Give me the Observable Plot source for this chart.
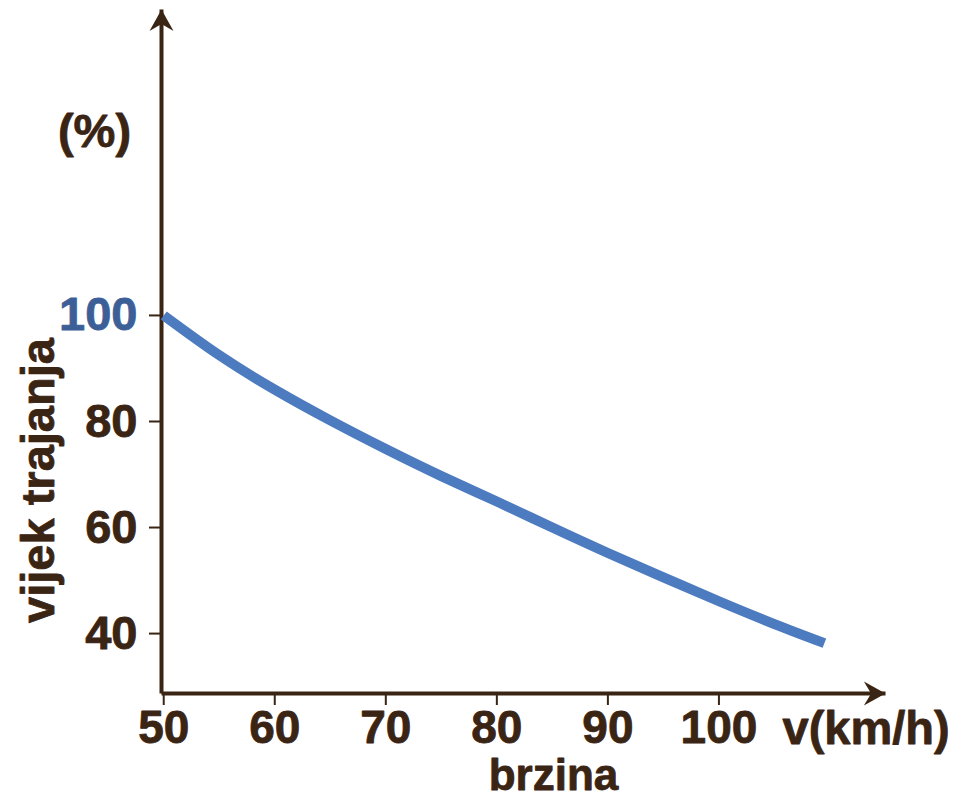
<!DOCTYPE html>
<html><head><meta charset="utf-8">
<script src="https://cdn.jsdelivr.net/npm/d3@7"></script>
<script src="https://cdn.jsdelivr.net/npm/@observablehq/plot@0.6"></script>
<style>html,body{margin:0;padding:0;background:#fff}</style>
</head><body><div id="chart"></div>
<script>
const speed = [50, 55, 60, 65, 70, 75, 80, 85, 90, 95, 100, 105, 109.5];
const lifetime = [100, 92.5, 86.0, 80.2, 74.8, 69.7, 64.9, 60.0, 55.2, 50.6, 46.1, 41.8, 38.2];
const xTicks = [50, 60, 70, 80, 90, 100];
const yTicks = [40, 60, 80, 100];
const xDomain = [49.8, 115];
const yDomain = [28.7, 157.7];
const yTitle = "vijek trajanja";
const yUnit = "(%)";
const xTitle = "brzina";
const xUnit = "v(km/h)";

const brown = "#3a2414";
const blue = "#4d7bbf";
const blueLabel = "#3d5f98";
const FS = 47;

const data = speed.map((s, i) => ({speed: s, life: lifetime[i]}));
const axisLines = [
  {x1: xDomain[0], y1: yDomain[0], x2: xDomain[0], y2: yDomain[1]},
  {x1: xDomain[0], y1: yDomain[0], x2: xDomain[1], y2: yDomain[0]}
];
const arrowTips = [
  {x: xDomain[0], y: yDomain[1], angle: 0},
  {x: xDomain[1], y: yDomain[0], angle: 90}
];
// filled arrowhead, tip at the symbol origin, pointing up
const arrowHead = {
  draw(context, size) {
    const r = Math.sqrt(size / Math.PI);
    const w = r, h = 1.8 * r, n = 1.2 * r;
    context.moveTo(0, 0);
    context.lineTo(-w, h);
    context.lineTo(0, n);
    context.lineTo(w, h);
    context.closePath();
  }
};
const textStyle = {fill: brown, stroke: brown, strokeWidth: 0.8, fontSize: FS, fontWeight: "bold"};

const chart = Plot.plot({
  width: 960,
  height: 800,
  marginLeft: 161,
  marginRight: 75,
  marginTop: 9,
  marginBottom: 107,
  style: {fontFamily: "'Liberation Sans', Arial, sans-serif", fontWeight: "bold", fontSize: FS + "px", background: "#fff", overflow: "visible"},
  x: {domain: xDomain},
  y: {domain: yDomain},
  marks: [
    Plot.axisY(yTicks, {tickSize: 12, stroke: brown, strokeWidth: 2, tickFormat: () => "", label: null}),
    Plot.text(yTicks, {y: d => d, frameAnchor: "left", textAnchor: "end", lineAnchor: "middle", dx: -24, fill: d => d === 100 ? blueLabel : brown, stroke: d => d === 100 ? blueLabel : brown, strokeWidth: 0.8, fontSize: FS, fontWeight: "bold"}),
    Plot.axisX(xTicks, {tickSize: 12, stroke: brown, strokeWidth: 2, tickFormat: () => "", label: null}),
    Plot.text(xTicks, {x: d => d, frameAnchor: "bottom", lineAnchor: "middle", dy: 35, ...textStyle, fontSize: 46}),
    Plot.link(axisLines, {x1: "x1", y1: "y1", x2: "x2", y2: "y2", stroke: brown, strokeWidth: 4}),
    Plot.dot(arrowTips, {x: "x", y: "y", rotate: "angle", symbol: arrowHead, r: 12, fill: brown, stroke: "none"}),
    Plot.line(data, {x: "speed", y: "life", curve: "natural", stroke: blue, strokeWidth: 10, strokeLinecap: "butt"}),
    Plot.text([yTitle], {frameAnchor: "left", rotate: -90, dx: -123, dy: 129, textAnchor: "middle", lineAnchor: "middle", ...textStyle}),
    Plot.text([yUnit], {frameAnchor: "top-left", dx: -67, dy: 122, textAnchor: "middle", lineAnchor: "middle", ...textStyle}),
    Plot.text([xTitle], {frameAnchor: "bottom", dx: 30, dy: 82, textAnchor: "middle", lineAnchor: "middle", ...textStyle, fontSize: 44}),
    Plot.text([xUnit], {frameAnchor: "bottom-right", dx: -103, dy: 35, textAnchor: "start", lineAnchor: "middle", ...textStyle})
  ]
});
document.getElementById("chart").appendChild(chart);
</script>
</body></html>
